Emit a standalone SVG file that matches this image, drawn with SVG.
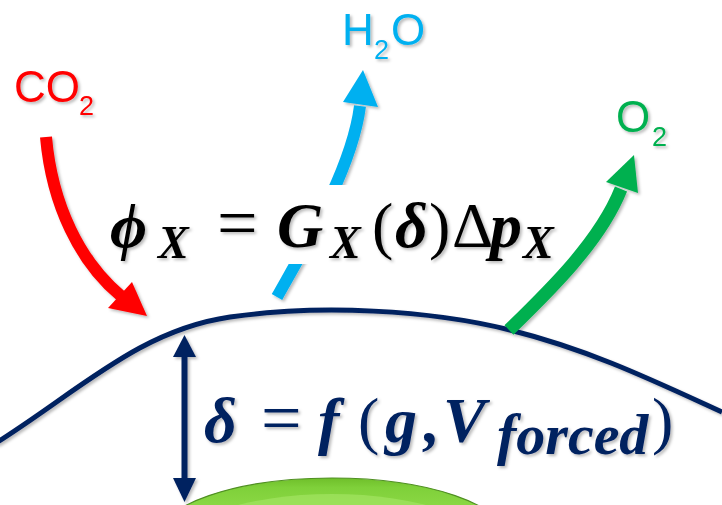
<svg xmlns="http://www.w3.org/2000/svg" width="722" height="505" viewBox="0 0 722 505">
  <defs>
    <filter id="sh" x="-20%" y="-20%" width="140%" height="140%">
      <feDropShadow dx="2" dy="2" stdDeviation="1.5" flood-color="#000" flood-opacity="0.28"/>
    </filter>
    <linearGradient id="ball" x1="0" y1="0" x2="0" y2="1">
      <stop offset="0" stop-color="#6fbf2a"/>
      <stop offset="0.08" stop-color="#7fd03a"/>
      <stop offset="0.3" stop-color="#8fdb48"/>
      <stop offset="1" stop-color="#a6e864"/>
    </linearGradient>
    <style>
      .lbl { font-family: "Liberation Sans", Arial, sans-serif; font-size: 44px; }
      .sub { font-size: 27px; }
      .math { font-family: "Liberation Serif", "DejaVu Serif", serif; font-weight: bold; font-style: italic; }
      .up { font-style: normal; font-weight: normal; }
      .shaft { fill: none; stroke-linecap: butt; }
    </style>
  </defs>
  <rect width="722" height="505" fill="#ffffff"/>

  <g id="leaf">
    <ellipse cx="332" cy="538" rx="174" ry="60" fill="url(#ball)" stroke="#4f8f22" stroke-width="1.2"/>
    <ellipse cx="332" cy="552" rx="160" ry="58" fill="#a3e463" opacity="0.7"/>
  </g>

  <g id="connectors" filter="url(#sh)">
    <path class="shaft" d="M-4,443 C80,390 140,330 230,317 S430,310 510,330 S652,380 722,412" stroke="#002060" stroke-width="5"/>
    <path class="shaft" d="M46,137 C52,205 80,262 121,296" stroke="#ff0000" stroke-width="12"/>
    <polygon points="108,308 147,316 132,282" fill="#ff0000"/>
    <path class="shaft" d="M277,297 C302,252 352,170 360,106" stroke="#00b0f0" stroke-width="12"/>
    <polygon points="343,102 363,70 378,107" fill="#00b0f0"/>
    <path class="shaft" d="M509,330 C548,292 600,242 621,189" stroke="#00b050" stroke-width="13"/>
    <polygon points="606,182 634,155 638,193" fill="#00b050"/>
    <line x1="184.5" y1="352" x2="184.5" y2="482" stroke="#002060" stroke-width="6"/>
    <polygon points="184.5,335 173,357 196,357" fill="#002060"/>
    <polygon points="184.5,502 173,478 196,478" fill="#002060"/>
  </g>

  <g id="flux-equation">
    <rect x="107" y="185" width="456" height="79" rx="6" fill="#ffffff"/>
    <text class="math" fill="#000000" font-size="64" filter="url(#sh)">
      <tspan x="110" y="247">ϕ</tspan><tspan x="158" y="258" font-size="46">X</tspan><tspan class="up" x="217" y="247" font-size="72">=</tspan><tspan x="277" y="247">G</tspan><tspan x="330" y="258" font-size="46">X</tspan><tspan class="up" x="372" y="247">(</tspan><tspan x="395" y="247">δ</tspan><tspan class="up" x="429" y="247">)</tspan><tspan class="up" x="452" y="247">Δ</tspan><tspan x="490" y="247">p</tspan><tspan x="523" y="258" font-size="46">X</tspan>
    </text>
  </g>

  <g id="thickness-equation">
    <text class="math" fill="#002060" font-size="64" filter="url(#sh)">
      <tspan x="204" y="442">δ</tspan><tspan class="up" x="261" y="442" font-size="72">=</tspan><tspan x="318" y="442">f</tspan><tspan class="up" x="358" y="442">(</tspan><tspan x="385" y="442">g</tspan><tspan x="424" y="442">,</tspan><tspan x="443" y="442">V</tspan><tspan x="497" y="454" font-size="58">forced</tspan><tspan class="up" x="652" y="442">)</tspan>
    </text>
  </g>

  <g id="label-co2">
    <text class="lbl" fill="#ff0000" filter="url(#sh)"><tspan x="14" y="102">CO</tspan><tspan class="sub" x="79" y="115">2</tspan></text>
  </g>
  <g id="label-h2o">
    <text class="lbl" fill="#00b0f0" filter="url(#sh)"><tspan x="342" y="45">H</tspan><tspan class="sub" x="374" y="59">2</tspan><tspan x="391" y="45">O</tspan></text>
  </g>
  <g id="label-o2">
    <text class="lbl" fill="#00b050" filter="url(#sh)"><tspan x="616" y="132">O</tspan><tspan class="sub" x="652" y="146">2</tspan></text>
  </g>
</svg>
